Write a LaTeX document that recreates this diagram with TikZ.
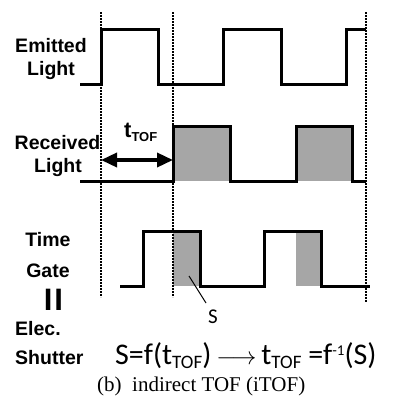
\documentclass[tikz,border=0pt]{standalone}
\usepackage{fontspec}
\setmainfont{Liberation Serif}
\newfontfamily\labfont{Liberation Sans}
\newfontfamily\calfont{Carlito}
\usetikzlibrary{arrows.meta}
\definecolor{shadegray}{RGB}{166,166,166}
\newcommand{\subtof}{\raisebox{-4.5pt}{\fontsize{19}{19}\selectfont TOF}}
\begin{document}
\begin{tikzpicture}[x=1pt,y=-1pt,
  wave/.style={line width=3pt, line join=miter},
  guide/.style={line width=2.8pt, dash pattern=on 2pt off 1pt},
  lbl/.style={font=\labfont\bfseries\fontsize{19.5}{20}\selectfont, inner sep=0pt, anchor=base},
  lblw/.style={lbl, anchor=base west},
  dblarrow/.style={line width=3.5pt, {Triangle[length=16pt,width=14pt]}-{Triangle[length=16pt,width=14pt]}}
]
\useasboundingbox (0,0) rectangle (392,399);

% gray areas
\fill[shadegray] (173,126) rectangle (230,181);
\fill[shadegray] (296,126) rectangle (352,181);
\fill[shadegray] (173,231) rectangle (200,286);
\fill[shadegray] (296,231) rectangle (321,286);

% dotted guides
\coordinate (g1t) at (101,12); \coordinate (g1b) at (101,297);
\coordinate (g2t) at (173,12); \coordinate (g2b) at (173,297);
\coordinate (g3t) at (366,12); \coordinate (g3b) at (366,302);
\draw[guide] (g1t) -- (g1b);
\draw[guide] (g2t) -- (g2b);
\draw[guide] (g3t) -- (g3b);

% waveforms
\draw[wave] (80,84) -- (101,84) -- (101,29) -- (158,29) -- (158,84) -- (223,84) -- (223,29) -- (281,29) -- (281,84) -- (346,84) -- (346,29) -- (366,29);
\draw[wave] (80,181) -- (173,181) -- (173,126) -- (230,126) -- (230,181) -- (296,181) -- (296,126) -- (352,126) -- (352,181) -- (366,181);
\draw[wave] (120,286) -- (143,286) -- (143,231) -- (200,231) -- (200,286) -- (264,286) -- (264,231) -- (321,231) -- (321,286) -- (370,286);

% labels
\node[lbl] (em1) at (51,52) {Emitted};
\node[lbl] (em2) at (51,75) {Light};
\node[lbl] (re1) at (57.5,149) {Received};
\node[lbl] (re2) at (58,172) {Light};
\node[lbl] (tg1) at (48,246) {Time};
\node[lbl] (tg2) at (48,277) {Gate};
\node[lbl, font=\labfont\bfseries\fontsize{31}{31}\selectfont] (eq) at (53.5,310) {I\kern2ptI};
\node[lblw] (es1) at (15,335) {Elec.};
\node[lblw] (es2) at (15,364) {Shutter};

% t_TOF arrow
\coordinate (a1) at (101,160);
\coordinate (a2) at (173,160);
\draw[dblarrow] (a1) -- (a2);
\node[inner sep=0pt, anchor=base west, font=\labfont\bfseries] (ttof) at (124,137)
  {\fontsize{22}{22}\selectfont t\raisebox{-4pt}{\fontsize{13}{13}\selectfont TOF}};

% S marker
\coordinate (sa) at (189,276);
\node[inner sep=0pt, font=\calfont\fontsize{21}{21}\selectfont] (slab) at (213,317) {S};
\coordinate (sb) at (206,303);
\draw[line width=1pt] (sa) -- (sb);

% formula
\node[inner sep=0pt, anchor=base west, font=\calfont\fontsize{30}{30}\selectfont] (form) at (115,364)
  {S=f(t\subtof)\,{\fontsize{23}{23}\selectfont$\longrightarrow$}\,t\subtof\ =f\raisebox{9pt}{\fontsize{15}{15}\selectfont -1}(S)};

% caption
\node[inner sep=0pt, anchor=base west, font=\fontsize{21}{21}\selectfont] (cap) at (97,391)
  {(b)\ \ indirect TOF (iTOF)};
\end{tikzpicture}
\end{document}
